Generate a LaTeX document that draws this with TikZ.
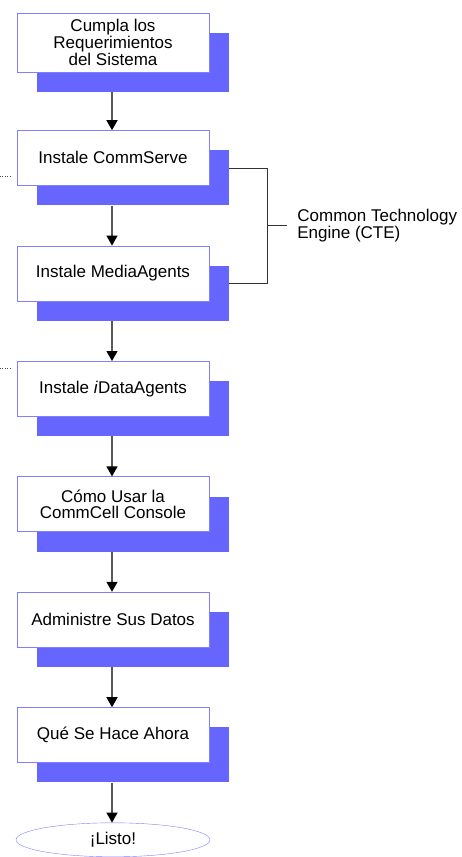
\documentclass[tikz,border=0pt]{standalone}
\usepackage{fontspec}
\setsansfont{Liberation Sans}
\RequirePackage{xcolor}
\definecolor{stepline}{RGB}{128,128,255}
\definecolor{stepshade}{RGB}{102,102,255}
\tikzset{every picture/.style={/utils/exec={\sffamily}}}
\usetikzlibrary{calc}
\usetikzlibrary{positioning}
\usetikzlibrary{shadows}
\usetikzlibrary{shapes.geometric}
\usetikzlibrary{arrows.meta}

\begin{document}
\begin{tikzpicture}[x=1pt, y=-1pt,
    font=\fontsize{17}{15.5}\selectfont,
    stepbox/.style={draw=stepline, fill=white, minimum width=192pt, minimum height=55pt,
      inner sep=3pt, align=center,
      general shadow={fill=stepshade, shadow xshift=20pt, shadow yshift=-20pt}},
    flow/.style={draw=black!65, line width=1.3pt, -{Triangle[width=11pt,length=10pt,black]}},
    node distance=60pt]
  \useasboundingbox (0,0) rectangle (462,857);

  \node [stepbox, minimum height=59pt] (req) at (113,42.5) {Cumpla los\\Requerimientos\\del Sistema};
  \node [stepbox, below=58pt of req] (cs) {Instale CommServe};
  \node [stepbox, below=of cs] (ma) {Instale MediaAgents};
  \node [stepbox, below=of ma] (ida) {Instale \textit{i}DataAgents};
  \node [stepbox, below=of ida] (console) {Cómo Usar la\\CommCell Console};
  \node [stepbox, below=of console] (datos) {Administre Sus Datos};
  \node [stepbox, below=of datos] (ahora) {Qué Se Hace Ahora};
  \node [ellipse, draw=stepline, minimum width=194pt, minimum height=34pt, below=of ahora] (listo) {¡Listo!};

  \foreach \a/\b in {req/cs, cs/ma, ma/ida, ida/console, console/datos, datos/ahora, ahora/listo}
    \draw [flow] ($(\a.south)+(-1pt,-20pt)$) -- ($(\b.north)+(-1pt,0)$);

  % CTE bracket
  \coordinate (cteA) at ($(cs.east)+(20pt,-10pt)$);
  \coordinate (cteB) at ($(ma.east)+(20pt,-10pt)$);
  \coordinate (cteMid) at ($(cteA)!0.5!(cteB)+(38pt,0)$);
  \draw [black!80] (cteA) -| (cteMid) |- (cteB);
  \draw [black!80] (cteMid) -- ++(20pt,0) coordinate (cteTip);
  \node [right=10pt of cteTip, inner sep=0pt, align=left] (cte) {Common Technology\\Engine (CTE)};

  % cut-off leaders at the left edge
  \coordinate (leadA) at (0,176);
  \coordinate (leadB) at (0,368);
  \draw [dotted, black!70] (leadA) -- ++(11pt,0);
  \draw [dotted, black!70] (leadB) -- ++(11pt,0);
\end{tikzpicture}
\end{document}
